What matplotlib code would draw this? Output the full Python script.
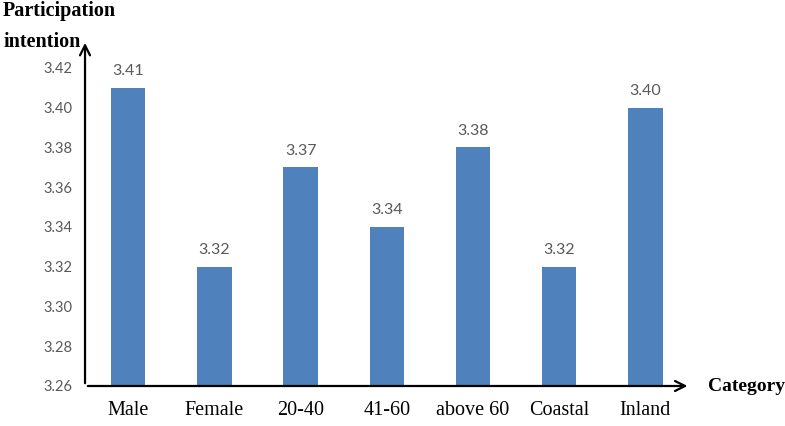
import matplotlib
matplotlib.use("Agg")
import matplotlib.pyplot as plt

categories = ["Male", "Female", "20-40", "41-60", "above 60", "Coastal", "Inland"]
values = [3.41, 3.32, 3.37, 3.34, 3.38, 3.32, 3.40]
yticks = [3.26, 3.28, 3.30, 3.32, 3.34, 3.36, 3.38, 3.40, 3.42]

fig = plt.figure(figsize=(7.85, 4.26), dpi=100)
ax = fig.add_axes([0.1083, 0.0939, 0.771, 0.812])

x = range(len(categories))
ax.bar(x, [v - 3.26 for v in values], bottom=3.26, width=0.4, color="#4F81BD")
for i, v in enumerate(values):
    ax.annotate("%.2f" % v, (i, v), xytext=(0, 7), textcoords="offset points",
                ha="center", va="bottom", fontsize=11.5, color="#595959", family="Lato")

ax.set_xlim(-0.5, 6.52)
ax.set_ylim(3.26, 3.434)
ax.set_yticks(yticks)
ax.set_yticklabels(["%.2f" % t for t in yticks], fontsize=10.5, color="#595959", family="Lato")
ax.set_xticks(list(x))
ax.set_xticklabels(categories, fontsize=14.5, family="Liberation Serif")
ax.tick_params(axis="y", length=0, pad=9)
ax.tick_params(axis="x", length=0, pad=11)
for s in ax.spines.values():
    s.set_visible(False)

# axis arrows
ax.annotate("", xy=(1.0, 0), xytext=(0, 0), xycoords="axes fraction",
            arrowprops=dict(arrowstyle="->", lw=1.6, color="black", mutation_scale=18))
ax.annotate("", xy=(0, 1.0), xytext=(0, 0), xycoords="axes fraction",
            arrowprops=dict(arrowstyle="->", lw=1.6, color="black", mutation_scale=18))

fig.text(0.004, 0.998, "Participation\nintention", ha="left", va="top", fontsize=14.5,
         fontweight="bold", family="Liberation Serif", linespacing=1.75)
fig.text(0.902, 0.092, "Category", ha="left", va="center", fontsize=14,
         fontweight="bold", family="Liberation Serif")

fig.savefig("out.png", dpi=100)
